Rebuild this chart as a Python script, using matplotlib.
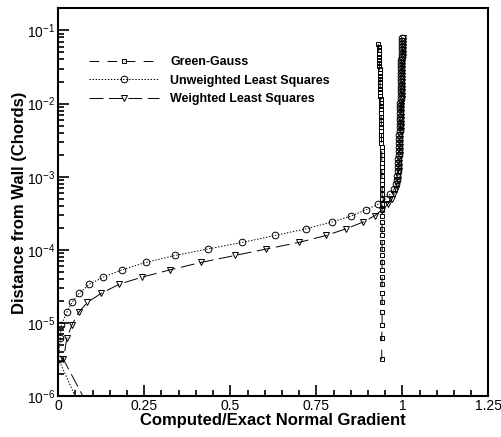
import numpy as np
import matplotlib
matplotlib.use("Agg")
import matplotlib.pyplot as plt

plt.rcParams['font.family'] = ['Liberation Sans', 'DejaVu Sans']
plt.rcParams['mathtext.default'] = 'regular'
plt.rcParams['lines.scale_dashes'] = False

# wall distance of each grid point (chords), first one lies below the axis
wall_dist = [1.0e-7,
             3.2e-6, 6.2e-6, 9.5e-6, 1.4e-5, 1.93e-5, 2.55e-5, 3.4e-5, 4.25e-5,
             5.35e-5, 6.75e-5, 8.4e-5, 1.03e-4, 1.27e-4, 1.58e-4, 1.95e-4, 2.4e-4,
             2.92e-4, 3.55e-4, 4.2e-4, 5.0e-4, 5.8e-4, 6.8e-4, 7.85e-4, 9.05e-4,
             1.04e-3, 1.19e-3, 1.36e-3, 1.55e-3, 1.77e-3, 2.01e-3, 2.28e-3, 2.58e-3,
             2.92e-3, 3.30e-3, 3.72e-3, 4.19e-3, 4.71e-3, 5.29e-3, 5.93e-3, 6.64e-3,
             7.43e-3, 8.30e-3, 9.26e-3, 1.03e-2, 1.15e-2, 1.28e-2, 1.42e-2, 1.58e-2,
             1.75e-2, 1.94e-2, 2.15e-2, 2.38e-2, 2.64e-2, 2.92e-2, 3.23e-2, 3.57e-2,
             3.95e-2, 4.36e-2, 4.82e-2, 5.32e-2, 5.87e-2, 6.48e-2, 7.15e-2, 7.9e-2]

nan = np.nan
green_gauss = [nan,
               0.940, 0.940, 0.941, 0.941, 0.941, 0.941, 0.941, 0.941,
               0.941, 0.941, 0.941, 0.941, 0.941, 0.941, 0.941, 0.941,
               0.941, 0.941, 0.941, 0.941, 0.941, 0.941, 0.941, 0.941,
               0.940, 0.940, 0.940, 0.940, 0.940, 0.940, 0.940, 0.940,
               0.939, 0.939, 0.939, 0.939, 0.939, 0.939, 0.938, 0.938,
               0.938, 0.938, 0.937, 0.937, 0.937, 0.936, 0.936, 0.936,
               0.935, 0.935, 0.935, 0.934, 0.934, 0.934, 0.933, 0.933,
               0.933, 0.932, 0.932, 0.931, 0.931, 0.930, nan, nan]

unweighted = [0.145,
              0.001, 0.006, 0.009, 0.025, 0.040, 0.061, 0.090, 0.131,
              0.185, 0.254, 0.339, 0.434, 0.535, 0.631, 0.721, 0.794,
              0.852, 0.895, 0.929, 0.951, 0.965, 0.975, 0.980, 0.983,
              0.985, 0.986, 0.987, 0.988, 0.988, 0.989, 0.989, 0.990,
              0.990, 0.991, 0.991, 0.992, 0.992, 0.992, 0.993, 0.993,
              0.993, 0.994, 0.994, 0.994, 0.995, 0.995, 0.995, 0.995,
              0.996, 0.996, 0.996, 0.996, 0.997, 0.997, 0.997, 0.997,
              0.997, 0.998, 0.998, 0.998, 0.998, 0.998, 0.998, 0.998]

weighted = [0.185,
            0.015, 0.025, 0.040, 0.059, 0.085, 0.125, 0.177, 0.243,
            0.325, 0.415, 0.513, 0.605, 0.700, 0.779, 0.837, 0.885,
            0.919, 0.941, 0.958, 0.970, 0.977, 0.981, 0.984, 0.986,
            0.988, 0.989, 0.990, 0.991, 0.991, 0.992, 0.992, 0.993,
            0.993, 0.994, 0.994, 0.995, 0.995, 0.995, 0.996, 0.996,
            0.996, 0.997, 0.997, 0.997, 0.998, 0.998, 0.998, 0.998,
            0.999, 0.999, 0.999, 0.999, 1.000, 1.000, 1.000, 1.000,
            1.000, 1.001, 1.001, 1.001, 1.001, 1.001, 1.001, 1.001]

x_ticks = [0, 0.25, 0.5, 0.75, 1, 1.25]
x_tick_labels = ['0', '0.25', '0.5', '0.75', '1', '1.25']

fig = plt.figure(figsize=(5.02, 4.37), dpi=100)
ax = fig.add_axes([0.116, 0.093, 0.857, 0.888])

ax.plot(green_gauss, wall_dist, color='black', lw=0.7, dashes=(7, 6),
        marker='s', ms=3.2, mfc='none', mew=0.7, label='Green-Gauss')
ax.plot(unweighted, wall_dist, color='black', lw=0.7, dashes=(1, 1.2),
        marker='o', ms=4.8, mfc='none', mew=0.7, label='Unweighted Least Squares')
ax.plot(weighted, wall_dist, color='black', lw=0.7, dashes=(10, 4),
        marker='v', ms=4.8, mfc='none', mew=0.7, label='Weighted Least Squares')

ax.set_yscale('log')
ax.set_xlim(0, 1.25)
ax.set_ylim(1e-6, 0.2)
ax.set_xticks(x_ticks)
ax.set_xticklabels(x_tick_labels)
ax.set_xticks(np.arange(0, 1.25, 0.05), minor=True)

ax.tick_params(which='both', direction='in', top=False, right=False,
               labelsize=10, width=1.2)
ax.tick_params(which='major', length=8, pad=2)
ax.tick_params(which='minor', length=4.5)

for s in ax.spines.values():
    s.set_linewidth(1.5)

ax.set_xlabel('Computed/Exact Normal Gradient', fontsize=12, fontweight='bold',
              labelpad=0)
ax.set_ylabel('Distance from Wall (Chords)', fontsize=12, fontweight='bold',
              labelpad=0)

leg = ax.legend(loc='upper left', bbox_to_anchor=(0.045, 0.905), frameon=False,
                handlelength=5.6, handletextpad=0.9, labelspacing=0.5,
                prop={'weight': 'bold', 'size': 9})

fig.savefig('out.png', dpi=100)
